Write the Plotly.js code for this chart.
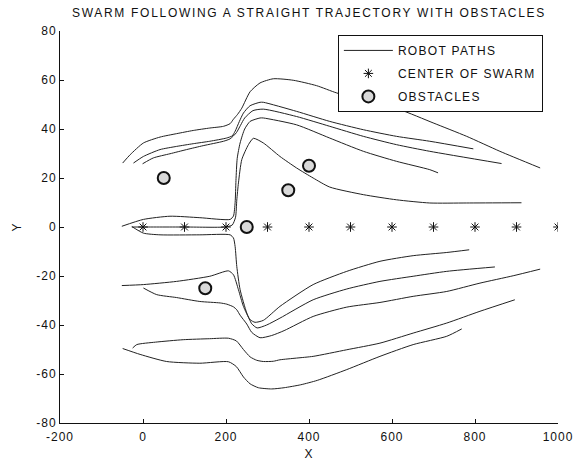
<!DOCTYPE html>
<html>
<head>
<meta charset="utf-8">
<script src="https://cdn.plot.ly/plotly-3.0.1.min.js"></script>
<style>
html,body{margin:0;padding:0;background:#fff;}
#chart .gtitle{letter-spacing:1.7px;}
#chart .xtick text,#chart .ytick text{letter-spacing:1px;}
#chart .legendtext{letter-spacing:1.3px;}
#chart .xtitle,#chart .ytitle{letter-spacing:1px;}
</style>
</head>
<body>
<div id="chart" style="width:573px;height:464px;"></div>
<script>
// ---- Robot paths (upper group) ----
var p1x = [-49, -31, 1, 41, 81, 121, 161, 194, 210, 218, 228, 238, 258, 282, 314, 362, 418, 467, 540, 619, 699, 780, 860, 957];
var p1y = [26.1, 29.5, 34.3, 36.7, 38.1, 39.4, 40.4, 41.1, 42.2, 44, 46, 48.5, 55.2, 58.8, 60.5, 59.9, 57.7, 54.7, 51.4, 47.9, 42.5, 37, 30.9, 24.1];

var p2x = [-23, 1, 41, 81, 121, 161, 201, 215, 222, 232, 242, 258, 282, 290, 370, 450, 531, 611, 691, 796];
var p2y = [26.1, 28.8, 31.6, 32.9, 34, 35, 36.3, 37.2, 39.1, 43, 46.5, 49.5, 50.9, 50.9, 47.2, 43.1, 39.7, 37, 35, 31.9];

var p3x = [-1, 25, 65, 105, 145, 194, 210, 225, 235, 245, 265, 290, 370, 450, 531, 611, 691, 864];
var p3y = [25.8, 28.2, 29.9, 31.6, 33.2, 35, 36, 38.5, 41.5, 44.5, 47.5, 48.1, 45.1, 41.1, 37, 33.6, 30.9, 25.9];

var p4x = [-51, 1, 65, 137, 210, 218, 222, 224, 227, 234, 245, 258, 282, 290, 370, 450, 531, 611, 691, 711];
var p4y = [0.3, 3.1, 4.4, 3.8, 3.1, 4.5, 10, 19, 28, 34.3, 40, 43.1, 44.5, 44.5, 41.7, 36.3, 30.9, 26.8, 23.4, 22.1];

var p5x = [-27, 0, 100, 197, 215, 223, 226, 230, 238, 254, 266, 290, 330, 370, 410, 450, 531, 611, 691, 780, 912];
var p5y = [0, 0, 0, 0, 0.8, 4, 11, 18, 27.5, 33.6, 36.2, 34.3, 28.8, 24.1, 20, 16.3, 13.2, 11.1, 9.8, 9.8, 9.9];

// ---- Robot paths (lower group) ----
var p6x = [-51, 1, 81, 161, 206, 218, 230, 242, 258, 270, 290, 330, 410, 491, 571, 651, 732, 786];
var p6y = [-23.9, -23.5, -22.2, -20.1, -17.9, -19.5, -25.6, -32.4, -37.8, -38.9, -38.1, -32.4, -23.5, -18.1, -14, -11.7, -10.4, -9.3];

var p7x = [-27, 1, 41, 137, 210, 218, 222, 226, 234, 250, 262, 275, 298, 330, 410, 491, 571, 651, 732, 848];
var p7y = [0.2, -2.5, -3.2, -3.2, -3.2, -4.5, -8, -16.1, -25.6, -35.1, -39.5, -41.2, -40, -37.2, -29.7, -25.3, -22.2, -20.1, -18.1, -16.3];

var p8x = [1, 33, 81, 137, 186, 202, 218, 226, 234, 250, 262, 282, 310, 340, 410, 491, 571, 651, 732, 812, 892, 957];
var p8y = [-24.9, -27.6, -28.8, -30.4, -31, -31.5, -32.6, -33.8, -36, -39.6, -43, -45.2, -44.3, -42.3, -36.5, -32.7, -30.8, -28.3, -26.3, -22.9, -19.9, -17.2];

var p9x = [-25, -15, 30, 97, 160, 206, 225, 242, 258, 274, 290, 314, 330, 370, 410, 491, 571, 651, 732, 812, 896];
var p9y = [-49.4, -48, -47, -46, -45.6, -45.4, -46.5, -50, -53, -54.4, -54.9, -54.8, -54.2, -53.5, -52.8, -50.1, -47.4, -43.3, -39.2, -34.4, -29.7];

var p10x = [-49, -7, 57, 137, 206, 225, 242, 258, 278, 310, 340, 380, 420, 491, 571, 651, 732, 768];
var p10y = [-49.6, -52, -54.9, -55.6, -55, -57, -61.2, -64, -65.6, -66.1, -65.6, -64.4, -62.6, -58.2, -52.8, -48, -44.6, -41.6];

// ---- Center of swarm ----
var centerX = [0, 100, 200, 300, 400, 500, 600, 700, 800, 900, 1000];
var centerY = [0, 0, 0, 0, 0, 0, 0, 0, 0, 0, 0];

// ---- Obstacles ----
var obsX = [50, 150, 250, 350, 400];
var obsY = [20, -25, 0, 15, 25];

// ---- Tick labels ----
var xTicks = [-200, 0, 200, 400, 600, 800, 1000];
var yTicks = [-80, -60, -40, -20, 0, 20, 40, 60, 80];

// ---- Legend names ----
var legendNames = ['ROBOT PATHS', 'CENTER OF SWARM', 'OBSTACLES'];

var pathsX = [p1x, p2x, p3x, p4x, p5x, p6x, p7x, p8x, p9x, p10x];
var pathsY = [p1y, p2y, p3y, p4y, p5y, p6y, p7y, p8y, p9y, p10y];

var traces = [];
for (var i = 0; i < pathsX.length; i++) {
  traces.push({
    x: pathsX[i], y: pathsY[i], type: 'scatter', mode: 'lines',
    name: legendNames[0], showlegend: i === 0, legendgroup: 'g1',
    line: {color: '#222222', width: 1, shape: 'spline', smoothing: 0.6},
    hoverinfo: 'skip'
  });
}
traces.push({
  x: centerX, y: centerY, type: 'scatter', mode: 'markers',
  name: legendNames[1] + '\u00a0\u00a0\u00a0\u00a0\u00a0\u00a0', legendgroup: 'g2',
  marker: {symbol: 'asterisk-open', size: 8, color: '#111111', line: {color: '#111111', width: 1}}
});
traces.push({
  x: obsX, y: obsY, type: 'scatter', mode: 'markers',
  name: legendNames[2], legendgroup: 'g3',
  marker: {symbol: 'circle', size: 12, color: '#d9d9d9', line: {color: '#111111', width: 2}}
});

var fontFam = '"Liberation Sans", Arial, Helvetica, sans-serif';
var layout = {
  width: 573, height: 464,
  margin: {l: 60, r: 15, t: 31, b: 41, pad: 0},
  paper_bgcolor: '#ffffff', plot_bgcolor: '#ffffff',
  font: {family: fontFam, size: 12, color: '#111111'},
  title: {text: 'SWARM FOLLOWING A STRAIGHT TRAJECTORY WITH OBSTACLES',
          x: 0.5, xref: 'paper', xanchor: 'center', y: 0.972, yanchor: 'middle',
          font: {family: fontFam, size: 12, color: '#111111'}},
  xaxis: {range: [-200, 1000], tickvals: xTicks, ticktext: xTicks.map(String),
          ticks: 'inside', ticklen: 4, tickcolor: '#111', showline: true, linecolor: '#111', linewidth: 1,
          showgrid: false, zeroline: false, mirror: false, ticklabelstandoff: 3,
          title: {text: 'X', standoff: 6, font: {size: 12}}},
  yaxis: {range: [-80, 80], tickvals: yTicks, ticktext: yTicks.map(String),
          ticks: 'inside', ticklen: 4, tickcolor: '#111', showline: true, linecolor: '#111', linewidth: 1,
          showgrid: false, zeroline: false, mirror: false,
          title: {text: 'Y', standoff: 15, font: {size: 12}}},
  legend: {x: 0.558, y: 0.99, xanchor: 'left', yanchor: 'top',
           bordercolor: '#111', borderwidth: 1, bgcolor: '#ffffff',
           font: {size: 12}, itemwidth: 49, traceorder: 'grouped', tracegroupgap: 4},
  showlegend: true
};
Plotly.newPlot('chart', traces, layout, {displayModeBar: false, staticPlot: true});
</script>
</body>
</html>
